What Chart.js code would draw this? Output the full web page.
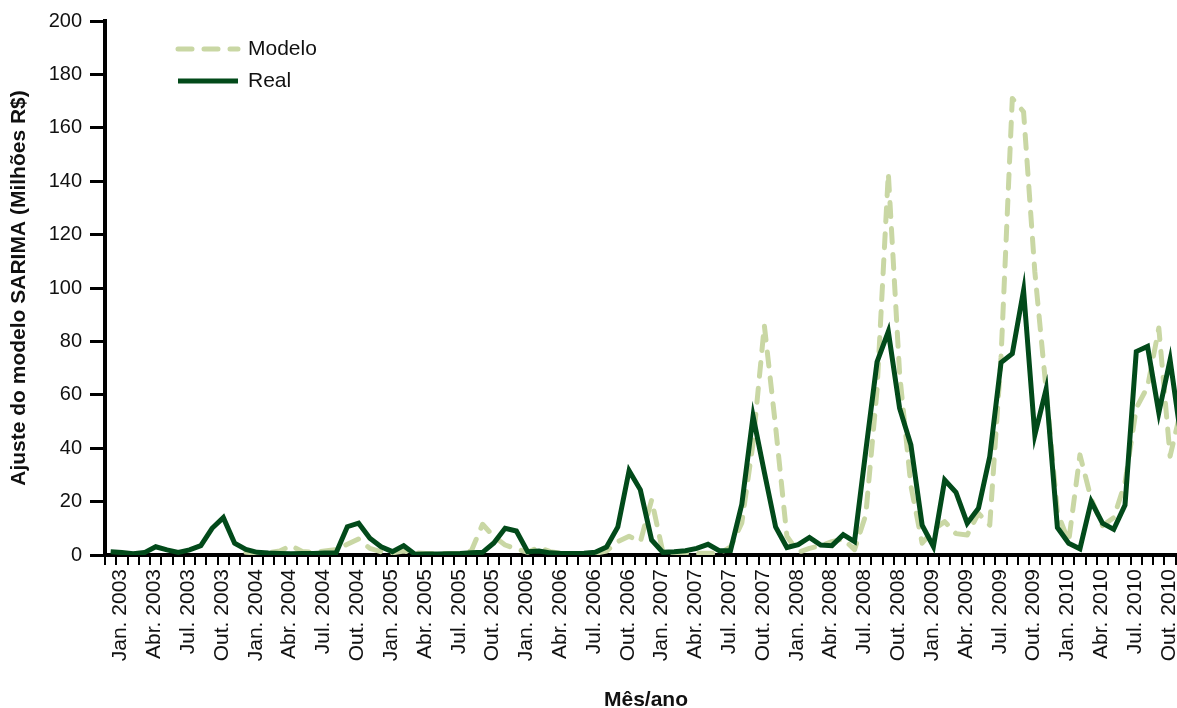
<!DOCTYPE html>
<html lang="pt-BR">
<head>
<meta charset="utf-8">
<title>Ajuste do modelo SARIMA</title>
<script src="https://cdn.jsdelivr.net/npm/chart.js@4.4.1/dist/chart.umd.min.js"></script>
<style>
  html, body { margin: 0; padding: 0; background: #ffffff; overflow: hidden; }
  #wrap { width: 1177px; height: 708px; overflow: hidden; position: relative; }
  canvas { display: block; }
</style>
</head>
<body>
<div id="wrap"><canvas id="chart" width="1200" height="708"></canvas></div>
<script>
// Monthly categories, Jan. 2003 - Dez. 2010
const monthAbbr = ['Jan.', 'Fev.', 'Mar.', 'Abr.', 'Mai.', 'Jun.', 'Jul.', 'Ago.', 'Set.', 'Out.', 'Nov.', 'Dez.'];
const years = [2003, 2004, 2005, 2006, 2007, 2008, 2009, 2010];
const categories = years.flatMap(y => monthAbbr.map(m => m + ' ' + y));

// Observed values (millions R$)
const real = [
  1.2, 0.9, 0.5, 0.9, 3.1, 1.9, 1.0, 1.9, 3.5, 10.0, 14.0, 4.4,
  2.1, 1.0, 0.75, 0.6, 0.5, 0.6, 0.6, 0.75, 0.75, 10.6, 11.9, 6.25,
  3.1, 1.25, 3.5, 0.3, 0.4, 0.4, 0.5, 0.6, 0.8, 1.0, 4.5, 10.0,
  9.0, 1.25, 1.5, 0.8, 0.6, 0.6, 0.7, 1.0, 3.0, 10.5, 31.6, 24.4,
  5.6, 1.0, 1.2, 1.6, 2.5, 4.0, 1.6, 1.7, 19.0, 52.0, 31.0, 10.5,
  2.8, 3.9, 6.6, 3.7, 3.5, 7.6, 5.0, 39.0, 72.3, 83.7, 55.0, 41.3,
  11.2, 3.2, 28.1, 23.5, 11.9, 17.5, 36.9, 72.1, 75.4, 99.1, 45.0, 62.1,
  10.3, 4.4, 2.3, 20.1, 11.9, 9.6, 18.7, 76.2, 78.1, 53.3, 73.1, 43.0
];

// SARIMA fitted values (first seasonal cycle has no fit)
const modelo = [
  null, null, null, null, null, null, null, null, null, null, null, null,
  1.0, 0.8, 0.8, 1.5, 3.5, 1.3, 1.0, 1.5, 2.0, 4.0, 6.0, 2.5,
  1.2, 0.8, 1.5, 0.8, 0.6, 0.6, 0.6, 0.6, 1.5, 11.5, 6.9, 3.75,
  2.25, 1.0, 2.9, 1.25, 0.6, 0.6, 0.6, 0.6, 1.5, 5.0, 7.0, 5.0,
  20.6, 1.0, 0.7, 0.8, 0.6, 0.7, 0.5, 3.0, 12.0, 42.0, 86.0, 48.0,
  7.0, 1.0, 2.5, 3.5, 5.0, 6.0, 2.0, 15.0, 62.0, 143.0, 68.0, 26.0,
  4.4, 9.4, 12.5, 8.0, 7.5, 15.6, 11.2, 74.0, 171.0, 166.0, 106.0, 62.0,
  16.0, 5.0, 37.5, 21.0, 11.0, 14.0, 27.0, 55.0, 63.0, 85.0, 37.0, 55.0
];

const yTicks = { min: 0, max: 200, step: 20 };

const TEXT = '#111111';
const FONT = '"Liberation Sans", Arial, Helvetica, sans-serif';

// Legend drawn inside the plot area, top-left, with line samples
const insetLegend = {
  id: 'insetLegend',
  afterDraw(chart, args, opts) {
    const ctx = chart.ctx;
    const { left, top } = chart.chartArea;
    chart.data.datasets.forEach((ds, k) => {
      const y = top + opts.y0 + k * opts.gap;
      const x0 = left + opts.x0;
      ctx.save();
      ctx.strokeStyle = ds.borderColor;
      ctx.lineWidth = ds.borderWidth;
      ctx.lineCap = ds.borderCapStyle || 'butt';
      ctx.setLineDash(ds.borderDash || []);
      ctx.beginPath();
      ctx.moveTo(x0, y);
      ctx.lineTo(x0 + opts.len, y);
      ctx.stroke();
      ctx.setLineDash([]);
      ctx.fillStyle = TEXT;
      ctx.font = '21px ' + FONT;
      ctx.textBaseline = 'middle';
      ctx.textAlign = 'left';
      ctx.fillText(ds.label, x0 + opts.len + opts.textGap, y);
      ctx.restore();
    });
  }
};

new Chart(document.getElementById('chart'), {
  type: 'line',
  data: {
    labels: categories,
    datasets: [
      {
        label: 'Modelo',
        data: modelo,
        borderColor: '#c9d7a4',
        borderWidth: 5,
        borderDash: [14, 12],
        borderCapStyle: 'round',
        borderJoinStyle: 'round',
        pointRadius: 0,
        tension: 0,
        fill: false,
        order: 1
      },
      {
        label: 'Real',
        data: real,
        borderColor: '#024a1a',
        borderWidth: 5,
        borderCapStyle: 'butt',
        borderJoinStyle: 'miter',
        pointRadius: 0,
        tension: 0,
        fill: false,
        order: 0
      }
    ]
  },
  options: {
    responsive: false,
    animation: false,
    devicePixelRatio: 1,
    layout: { padding: { top: 21, right: 13, bottom: 0, left: 0 } },
    plugins: {
      legend: { display: false },
      tooltip: { enabled: false },
      insetLegend: { x0: 73, y0: 28, gap: 32, len: 60, textGap: 10 }
    },
    scales: {
      x: {
        type: 'category',
        offset: true,
        grid: {
          display: true,
          offset: true,
          drawOnChartArea: false,
          drawTicks: true,
          tickLength: 10,
          lineWidth: 2,
          color: '#000000'
        },
        border: { display: true, width: 4, color: '#000000' },
        ticks: {
          autoSkip: false,
          maxRotation: 90,
          minRotation: 90,
          padding: 4,
          labelOffset: 10,
          color: TEXT,
          font: { family: FONT, size: 21 },
          callback: (value, index) => (index % 3 === 0 ? categories[index] : '')
        },
        title: {
          display: true,
          text: 'Mês/ano',
          color: TEXT,
          font: { family: FONT, size: 21, weight: 'bold', lineHeight: 1 },
          padding: { top: 0, bottom: -3 }
        },
        afterFit(scale) {
          scale.height = 153;
          scale.paddingLeft = 0;
          scale.paddingRight = 0;
        }
      },
      y: {
        min: yTicks.min,
        max: yTicks.max,
        grid: {
          display: true,
          drawOnChartArea: false,
          drawTicks: true,
          tickLength: 15,
          lineWidth: 3,
          color: '#000000'
        },
        border: { display: true, width: 4, color: '#000000' },
        ticks: {
          stepSize: yTicks.step,
          padding: 8,
          color: TEXT,
          font: { family: FONT, size: 20 }
        },
        title: {
          display: true,
          text: 'Ajuste do modelo SARIMA (Milhões R$)',
          color: TEXT,
          font: { family: FONT, size: 21, weight: 'bold', lineHeight: 1 },
          padding: { top: 9, bottom: 0 }
        },
        afterFit(scale) {
          scale.width = 105;
          scale.paddingTop = 0;
          scale.paddingBottom = 0;
        }
      }
    }
  },
  plugins: [insetLegend]
});
</script>
</body>
</html>
